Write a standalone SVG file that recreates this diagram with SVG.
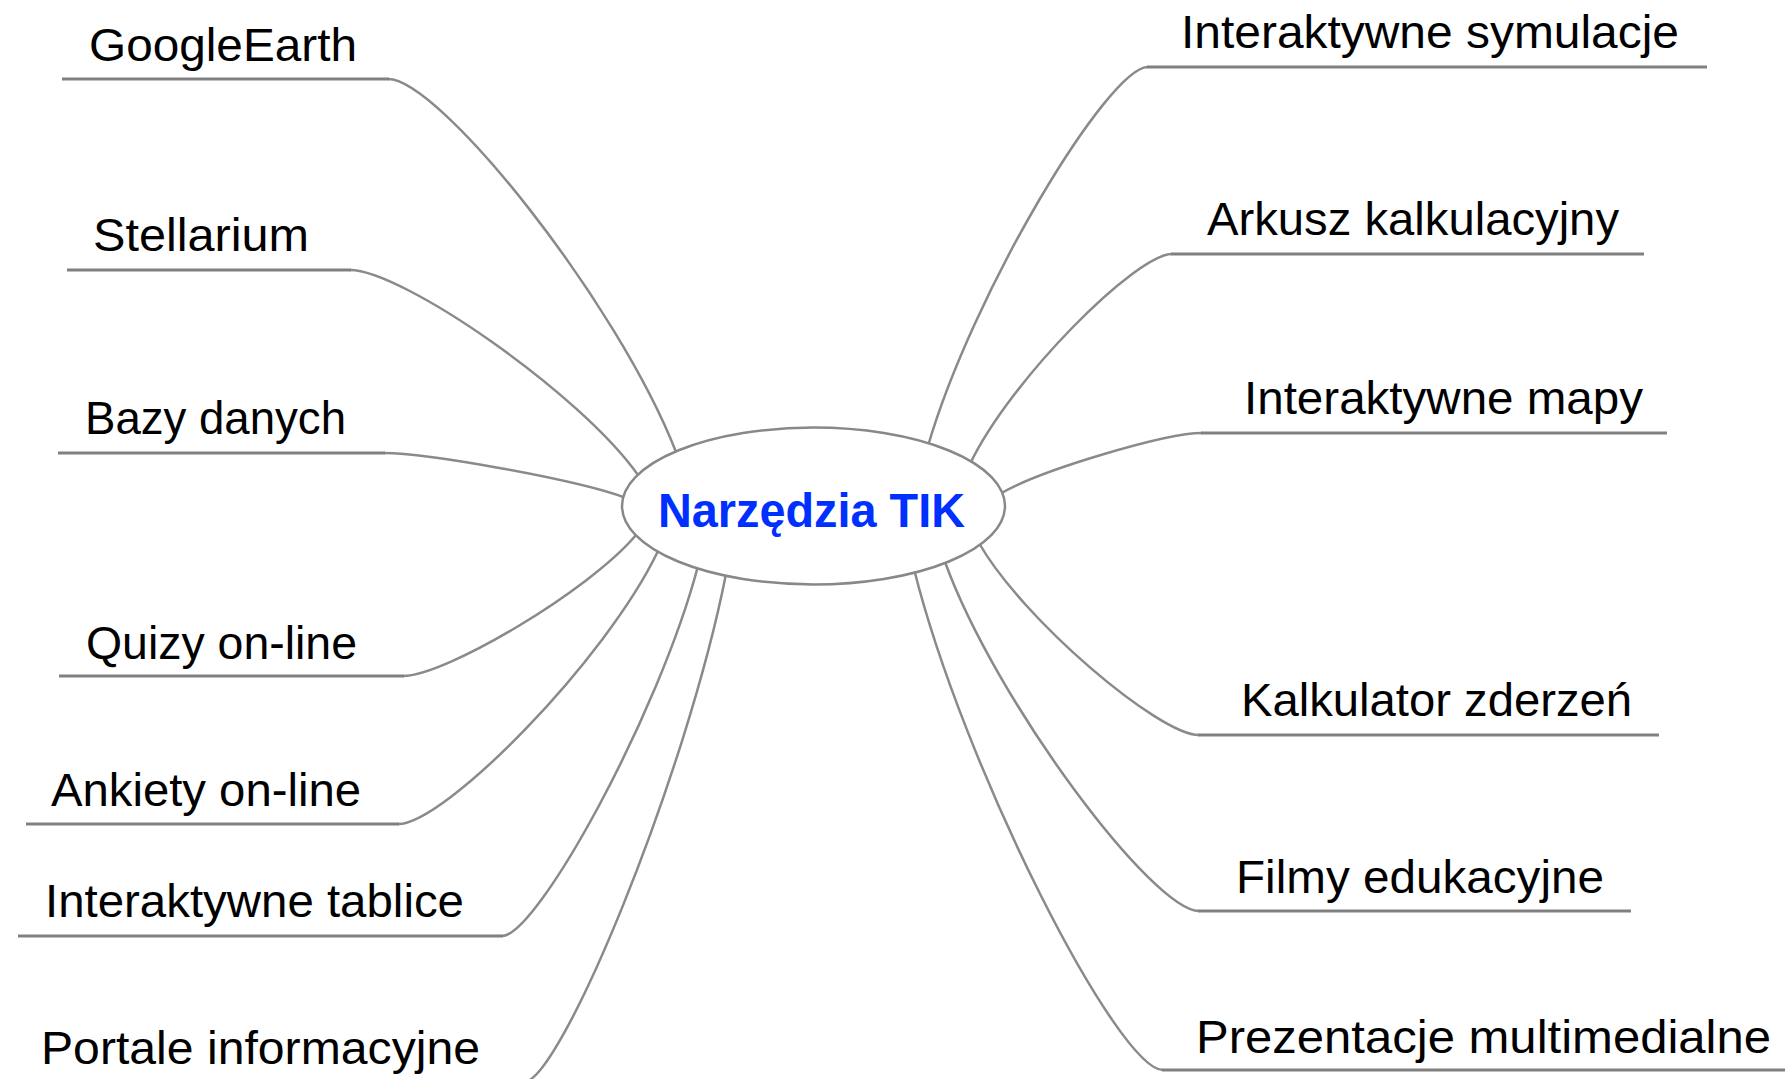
<svg xmlns="http://www.w3.org/2000/svg" width="1785" height="1079" viewBox="0 0 1785 1079">
<style>
.bg{fill:#ffffff}
.lbl{font-family:"Liberation Sans",Arial,sans-serif;font-size:47px;fill:#000000}
.ul{stroke:#808080;stroke-width:3;fill:none}
.con{stroke:#8a8a8a;stroke-width:2.5;fill:none}
.hub{fill:#ffffff;stroke:#888888;stroke-width:2.5}
.hubtxt{font-family:"Liberation Sans",Arial,sans-serif;font-size:49px;font-weight:bold;fill:#0030ff}
</style>
<rect class="bg" x="0" y="0" width="1785" height="1079"/>
<g id="connectors">
<path class="con" d="M388 79 C440 79 618 303 676 452"/>
<path class="con" d="M350 270 C402 270 580 393 638 475"/>
<path class="con" d="M384 453 C428 453 578 480 626 498"/>
<path class="con" d="M403 676 C445 676 589 591 636 535"/>
<path class="con" d="M398 824 C445 824 606 660 658 551"/>
<path class="con" d="M502 936 C537 936 659 714 698 566"/>
<path class="con" d="M524 1082 C560 1082 686 777 726 574"/>
<path class="con" d="M1148 67 C1108 67 972 294 928 446"/>
<path class="con" d="M1172 254 C1136 254 1010 380 970 464"/>
<path class="con" d="M1202 433 C1166 433 1040 470 1000 494"/>
<path class="con" d="M1199 735 C1159 735 1023 620 979 543"/>
<path class="con" d="M1199 911 C1153 911 996 702 945 562"/>
<path class="con" d="M1163 1070 C1118 1070 964 769 914 569"/>
</g>
<g id="center">
<ellipse class="hub" cx="813.5" cy="506" rx="191.5" ry="78.5"/>
<text class="hubtxt" x="658" y="527" textLength="307" lengthAdjust="spacingAndGlyphs">Narzędzia TIK</text>
</g>
<g id="n-googleearth">
<line class="ul" x1="62" y1="79" x2="389" y2="79"/>
<text class="lbl" x="89" y="61" textLength="268" lengthAdjust="spacingAndGlyphs">GoogleEarth</text>
</g>
<g id="n-stellarium">
<line class="ul" x1="67" y1="270" x2="351" y2="270"/>
<text class="lbl" x="93" y="251" textLength="216" lengthAdjust="spacingAndGlyphs">Stellarium</text>
</g>
<g id="n-bazy">
<line class="ul" x1="58" y1="453" x2="385" y2="453"/>
<text class="lbl" x="85" y="434" textLength="261" lengthAdjust="spacingAndGlyphs">Bazy danych</text>
</g>
<g id="n-quizy">
<line class="ul" x1="59" y1="676" x2="404" y2="676"/>
<text class="lbl" x="86" y="659" textLength="271" lengthAdjust="spacingAndGlyphs">Quizy on-line</text>
</g>
<g id="n-ankiety">
<line class="ul" x1="26" y1="824" x2="399" y2="824"/>
<text class="lbl" x="51" y="806" textLength="310" lengthAdjust="spacingAndGlyphs">Ankiety on-line</text>
</g>
<g id="n-tablice">
<line class="ul" x1="18" y1="936" x2="503" y2="936"/>
<text class="lbl" x="45" y="917" textLength="419" lengthAdjust="spacingAndGlyphs">Interaktywne tablice</text>
</g>
<g id="n-portale">
<text class="lbl" x="41" y="1064" textLength="439" lengthAdjust="spacingAndGlyphs">Portale informacyjne</text>
</g>
<g id="n-symulacje">
<line class="ul" x1="1147" y1="67" x2="1707" y2="67"/>
<text class="lbl" x="1181" y="48" textLength="498" lengthAdjust="spacingAndGlyphs">Interaktywne symulacje</text>
</g>
<g id="n-arkusz">
<line class="ul" x1="1171" y1="254" x2="1644" y2="254"/>
<text class="lbl" x="1207" y="235" textLength="412" lengthAdjust="spacingAndGlyphs">Arkusz kalkulacyjny</text>
</g>
<g id="n-mapy">
<line class="ul" x1="1201" y1="433" x2="1667" y2="433"/>
<text class="lbl" x="1244" y="414" textLength="399" lengthAdjust="spacingAndGlyphs">Interaktywne mapy</text>
</g>
<g id="n-kalkulator">
<line class="ul" x1="1198" y1="735" x2="1659" y2="735"/>
<text class="lbl" x="1241" y="716" textLength="391" lengthAdjust="spacingAndGlyphs">Kalkulator zderzeń</text>
</g>
<g id="n-filmy">
<line class="ul" x1="1198" y1="911" x2="1631" y2="911"/>
<text class="lbl" x="1236" y="893" textLength="368" lengthAdjust="spacingAndGlyphs">Filmy edukacyjne</text>
</g>
<g id="n-prezentacje">
<line class="ul" x1="1162" y1="1070" x2="1785" y2="1070"/>
<text class="lbl" x="1196" y="1053" textLength="575" lengthAdjust="spacingAndGlyphs">Prezentacje multimedialne</text>
</g>
</svg>
